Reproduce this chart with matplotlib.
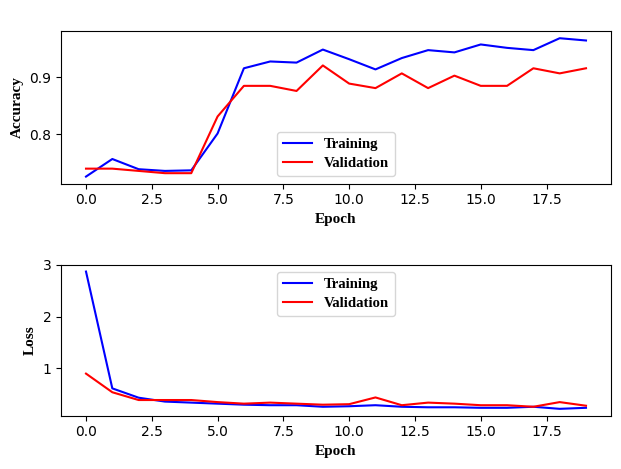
import matplotlib
matplotlib.use("Agg")
import matplotlib.pyplot as plt

epochs = list(range(20))
train_acc = [0.725, 0.756, 0.738, 0.735, 0.736, 0.801, 0.916, 0.928, 0.926, 0.949,
             0.932, 0.914, 0.934, 0.948, 0.944, 0.958, 0.952, 0.948, 0.969, 0.965]
val_acc = [0.739, 0.739, 0.735, 0.731, 0.731, 0.831, 0.885, 0.885, 0.876, 0.921,
           0.889, 0.881, 0.907, 0.881, 0.903, 0.885, 0.885, 0.916, 0.907, 0.916]
train_loss = [2.87, 0.615, 0.435, 0.36, 0.34, 0.32, 0.30, 0.29, 0.29, 0.26,
              0.27, 0.29, 0.26, 0.25, 0.25, 0.24, 0.24, 0.26, 0.22, 0.24]
val_loss = [0.90, 0.54, 0.39, 0.39, 0.39, 0.35, 0.32, 0.34, 0.32, 0.30,
            0.31, 0.44, 0.29, 0.34, 0.32, 0.29, 0.29, 0.26, 0.35, 0.28]

serif_bold = {"family": ["Liberation Serif", "DejaVu Serif"], "weight": "bold", "size": 11}
legend_prop = {"family": ["Liberation Serif"], "weight": "bold", "size": 10.6}

fig = plt.figure(figsize=(6.21, 4.69), dpi=100)
ax1 = fig.add_axes([61 / 621, 1 - 183.5 / 469, 550 / 621, 152.2 / 469])
ax2 = fig.add_axes([61 / 621, 1 - 415.7 / 469, 550 / 621, 151 / 469])

ax1.plot(epochs, train_acc, color="blue", label="Training")
ax1.plot(epochs, val_acc, color="red", label="Validation")
ax1.set_xlabel("Epoch", fontdict=serif_bold)
ax1.set_ylabel("Accuracy", fontdict=serif_bold)
ax1.legend(loc="lower center", prop=legend_prop, labelspacing=0.4)

ax2.plot(epochs, train_loss, color="blue", label="Training")
ax2.plot(epochs, val_loss, color="red", label="Validation")
ax2.set_xlabel("Epoch", fontdict=serif_bold)
ax2.set_ylabel("Loss", fontdict=serif_bold)
ax2.legend(loc="upper center", prop=legend_prop, labelspacing=0.4)

fig.savefig("out.png", dpi=100)
